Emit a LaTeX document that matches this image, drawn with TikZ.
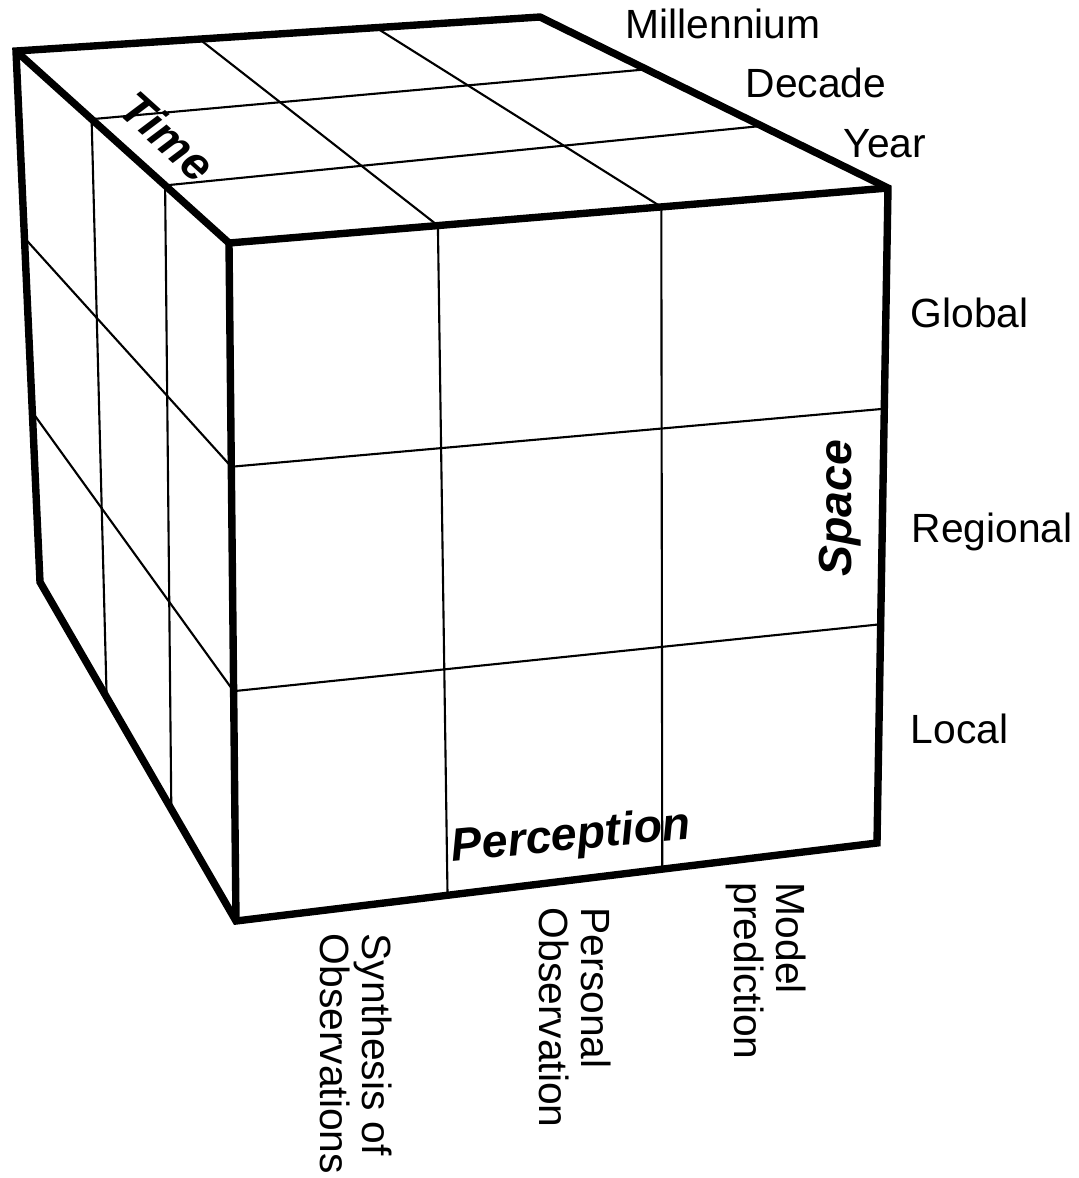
\documentclass[tikz,border=0pt]{standalone}
\usepackage{fontspec}
\setmainfont{Liberation Sans}
\usetikzlibrary{calc}

\begin{document}
\begin{tikzpicture}[
    x=0.01cm, y=-0.01cm,
    cubeedge/.style={line width=2.1pt, line join=miter},
    cubegrid/.style={line width=0.6pt},
    scalelabel/.style={font=\fontsize{11.6}{12}\selectfont, inner sep=0pt},
    axislabel/.style={font=\fontsize{13.2}{14}\selectfont\bfseries\itshape, inner sep=0pt},
    collabel/.style={scalelabel, rotate=-90, align=left, anchor=north west}
]
\useasboundingbox (0,0) rectangle (1078,1178);

% corners of the cube
\coordinate (A) at (16,51);   % top back left
\coordinate (B) at (540,17);  % top back right
\coordinate (C) at (888,188); % top front right
\coordinate (D) at (229,243); % top front left
\coordinate (E) at (236,921); % bottom front left
\coordinate (F) at (877,843); % bottom front right
\coordinate (G) at (40,582);  % bottom back left

% top face grid
\draw[cubegrid] ($(A)!0.35!(B)$) -- ($(D)!0.317!(C)$);
\draw[cubegrid] ($(A)!0.687!(B)$) -- ($(D)!0.656!(C)$);
\draw[cubegrid] ($(A)!0.355!(D)$) -- ($(B)!0.306!(C)$);
\draw[cubegrid] ($(A)!0.70!(D)$) -- ($(B)!0.637!(C)$);

% left face grid
\draw[cubegrid] ($(A)!0.355!(D)$) -- ($(G)!0.34!(E)$);
\draw[cubegrid] ($(A)!0.70!(D)$) -- ($(G)!0.67!(E)$);
\draw[cubegrid] ($(A)!0.352!(G)$) -- ($(D)!0.33!(E)$);
\draw[cubegrid] ($(A)!0.68!(G)$) -- ($(D)!0.661!(E)$);

% front face grid
\draw[cubegrid] ($(D)!0.317!(C)$) -- ($(E)!0.33!(F)$);
\draw[cubegrid] ($(D)!0.656!(C)$) -- ($(E)!0.665!(F)$);
\draw[cubegrid] ($(D)!0.33!(E)$) -- ($(C)!0.337!(F)$);
\draw[cubegrid] ($(D)!0.661!(E)$) -- ($(C)!0.666!(F)$);

% outline
\draw[cubeedge] (A) -- (B) -- (C) -- (F) -- (E) -- (G) -- cycle;
\draw[cubeedge] (A) -- (D) -- (C);
\draw[cubeedge] (D) -- (E);

% time scale
\node[scalelabel, anchor=base west] (millennium) at (625,38) {Millennium};
\node[scalelabel, anchor=base west] (decade) at (745,97) {Decade};
\node[scalelabel, anchor=base west] (year) at (843,157) {Year};

% space scale
\node[scalelabel, anchor=base west] (global) at (910,327) {Global};
\node[scalelabel, anchor=base west] (regional) at (911,542) {Regional};
\node[scalelabel, anchor=base west] (local) at (910,743) {Local};

% perception
\node[collabel] (synthesis) at (393,933) {Synthesis of\\Observations};
\node[collabel] (personal) at (612,907) {Personal\\Observation};
\node[collabel] (model) at (807,882) {Model\\prediction};

% axis names
\node[axislabel, rotate=-42] (time) at (168,136) {Time};
\node[axislabel, rotate=90] (space) at (840,508) {Space};
\node[axislabel, rotate=5.5] (perception) at (571,838) {Perception};

\end{tikzpicture}
\end{document}
